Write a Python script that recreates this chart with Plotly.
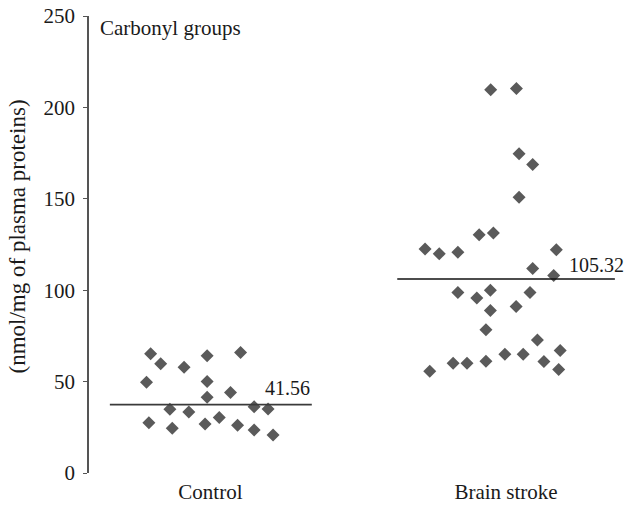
import plotly.graph_objects as go

# ---- data ----
categories = ["Control", "Brain stroke"]
control_values = [65.2, 59.7, 57.9, 64.1, 65.9, 49.7, 50.0, 41.4, 44.0, 34.9,
                  33.4, 36.3, 35.0, 27.5, 24.5, 26.8, 30.3, 26.1, 23.5, 20.8]
control_jitter = [-0.202, -0.168, -0.089, -0.011, 0.102, -0.216, -0.011, -0.011, 0.068, -0.137,
                  -0.073, 0.148, 0.195, -0.208, -0.129, -0.018, 0.030, 0.092, 0.148, 0.212]
stroke_values = [209.7, 210.3, 174.7, 168.7, 150.8, 130.3, 131.3, 122.5, 119.9, 120.8,
                 122.1, 111.9, 108.1, 98.7, 95.7, 100.0, 88.9, 91.1, 98.7, 78.3,
                 72.7, 67.0, 55.7, 60.1, 60.1, 61.2, 65.0, 65.0, 61.0, 56.6]
stroke_jitter = [-0.052, 0.035, 0.044, 0.090, 0.044, -0.091, -0.043, -0.274, -0.226, -0.163,
                 0.170, 0.090, 0.161, -0.163, -0.099, -0.053, -0.053, 0.034, 0.081, -0.068,
                 0.106, 0.183, -0.258, -0.179, -0.132, -0.068, -0.004, 0.058, 0.128, 0.178]
mean_lines = [37.4, 106.1]          # drawn line levels
mean_labels = ["41.56", "105.32"]   # printed labels
line_halfwidth = [(-0.340, 0.343), (-0.368, 0.368)]
tick_vals = [0, 50, 100, 150, 200, 250]

FONT = "Liberation Serif"
MARK = "#5a5a5a"
TXT = "#1a1a1a"

fig = go.Figure()
groups = [(1, control_values, control_jitter), (2, stroke_values, stroke_jitter)]
for pos, vals, jit in groups:
    fig.add_trace(go.Scatter(
        x=[pos + j for j in jit], y=vals, mode="markers",
        marker=dict(symbol="diamond", size=10, color=MARK, line=dict(width=0)),
        showlegend=False, hoverinfo="y"))

line_colors = ["#3a3a3a", "#111111"]
for i, (pos, m) in enumerate(zip([1, 2], mean_lines)):
    lo, hi = line_halfwidth[i]
    fig.add_trace(go.Scatter(
        x=[pos + lo, pos + hi], y=[m, m], mode="lines",
        line=dict(color=line_colors[i], width=1.6), showlegend=False, hoverinfo="skip"))

fig.add_annotation(x=1.343, y=46.5, text=mean_labels[0], showarrow=False,
                   xanchor="right", yanchor="middle", font=dict(family=FONT, size=20, color=TXT))
fig.add_annotation(x=2.405, y=113.8, text=mean_labels[1], showarrow=False,
                   xanchor="right", yanchor="middle", font=dict(family=FONT, size=20, color=TXT))
fig.add_annotation(x=0.62, y=243.4, text="Carbonyl groups", showarrow=False,
                   xanchor="left", yanchor="middle", font=dict(family=FONT, size=21, color=TXT))
fig.add_annotation(xref="paper", yref="paper", x=-0.132, y=0.5175,
                   text="(nmol/mg of plasma proteins)", textangle=-90, showarrow=False,
                   xanchor="center", yanchor="middle", font=dict(family=FONT, size=23, color=TXT))

fig.update_layout(
    width=627, height=505,
    margin=dict(l=89, r=0, t=16, b=32, autoexpand=False),
    paper_bgcolor="white", plot_bgcolor="white",
    font=dict(family=FONT, size=21, color=TXT),
    xaxis=dict(range=[0.5895, 2.409], tickvals=[1, 2], ticktext=categories,
               showline=False, showgrid=False, zeroline=False, ticks="", automargin=False,
               ticklabelstandoff=4,
               tickfont=dict(family=FONT, size=21, color=TXT)),
    yaxis=dict(range=[0, 250], tickvals=tick_vals, showline=True, linecolor="#555",
               linewidth=1.5, ticks="outside", ticklen=4, tickcolor="#555",
               showgrid=False, zeroline=False, automargin=False, ticklabeloverflow="allow",
               ticklabelstandoff=4,
               tickfont=dict(family=FONT, size=21, color=TXT)),
)

fig.write_html("out.html", config={"displayModeBar": False},
               post_script="document.body.style.margin='0';")
